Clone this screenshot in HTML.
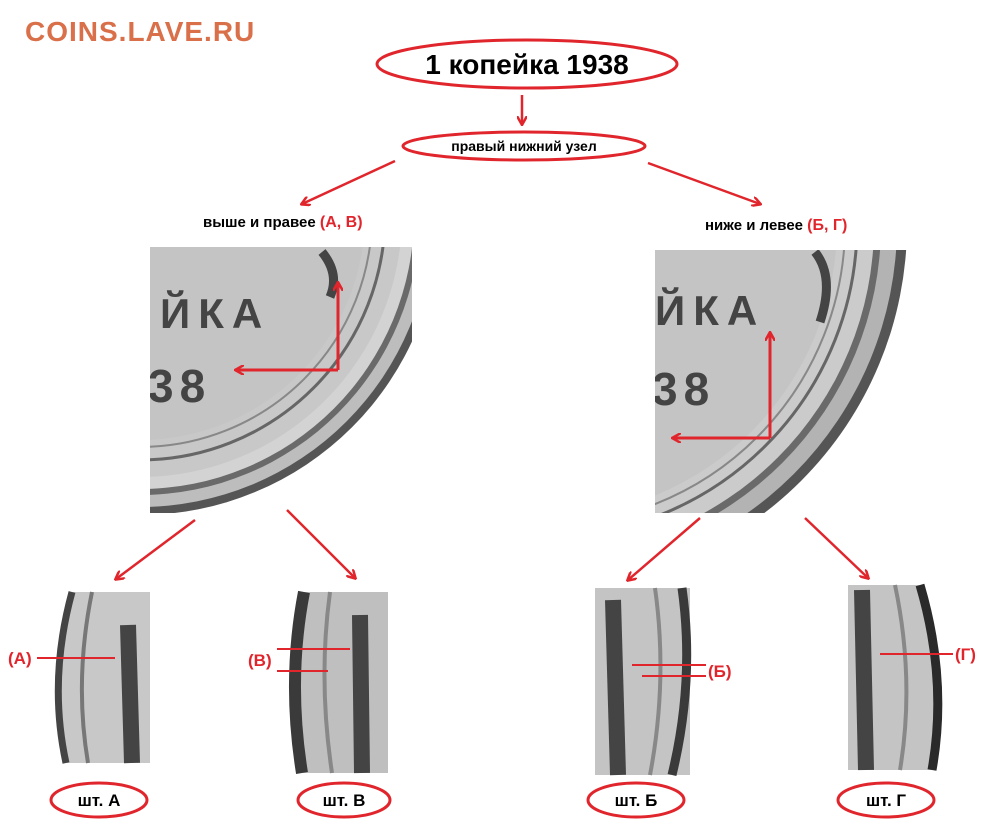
<!DOCTYPE html>
<html><head><meta charset="utf-8"><style>
body{margin:0;background:#fff;}
svg text{font-family:"Liberation Sans",sans-serif;font-weight:bold;}
</style></head><body>
<svg width="994" height="835" viewBox="0 0 994 835" xmlns="http://www.w3.org/2000/svg">
<defs>
<marker id="ah" markerWidth="10" markerHeight="10" refX="8" refY="5" orient="auto" markerUnits="userSpaceOnUse">
<path d="M0,0 L9,5 L0,10" fill="none" stroke="#e0262c" stroke-width="2.5"/></marker>
<clipPath id="cl"><rect x="150" y="247" width="262" height="266"/></clipPath>
<clipPath id="cr"><rect x="655" y="250" width="253" height="263"/></clipPath>
</defs>
<text x="25" y="41" font-size="28" letter-spacing="1" fill="#d9704a">COINS.LAVE.RU</text>

<ellipse cx="527" cy="64" rx="150" ry="24" fill="none" stroke="#e0262c" stroke-width="3"/>
<text x="527" y="74" font-size="28" text-anchor="middle" fill="#000">1 копейка 1938</text>
<line x1="522" y1="95" x2="522" y2="124" stroke="#e0262c" stroke-width="2.5" marker-end="url(#ah)"/>
<ellipse cx="524" cy="146" rx="121" ry="14" fill="none" stroke="#e0262c" stroke-width="3"/>
<text x="524" y="151" font-size="14" text-anchor="middle">правый нижний узел</text>
<line x1="395" y1="161" x2="302" y2="204" stroke="#e0262c" stroke-width="2.5" marker-end="url(#ah)"/>
<line x1="648" y1="163" x2="760" y2="204" stroke="#e0262c" stroke-width="2.5" marker-end="url(#ah)"/>
<text x="203" y="227" font-size="15">выше и правее <tspan fill="#e0262c" font-size="16">(А, В)</tspan></text>
<text x="705" y="230" font-size="15">ниже и левее <tspan fill="#e0262c" font-size="16">(Б, Г)</tspan></text>

<g clip-path="url(#cl)">
<circle cx="140" cy="215" r="300" fill="#555"/>
<circle cx="140" cy="215" r="292" fill="#bdbdbd"/>
<circle cx="140" cy="215" r="280" fill="#6a6a6a"/>
<circle cx="140" cy="215" r="274" fill="#d3d3d3"/>
<circle cx="140" cy="215" r="262" fill="#c8c8c8"/>
<circle cx="140" cy="215" r="245" fill="none" stroke="#666" stroke-width="3"/>
<circle cx="140" cy="215" r="232" fill="none" stroke="#888" stroke-width="2"/>
<circle cx="140" cy="215" r="225" fill="#c4c4c4"/>
<text x="160" y="328" font-size="42" letter-spacing="8" fill="#444" font-weight="normal">ЙКА</text>
<text x="148" y="402" font-size="46" letter-spacing="6" fill="#444" font-weight="normal">38</text>
<path d="M322 252 q18 22 8 45" stroke="#444" stroke-width="9" fill="none"/>
</g>
<g clip-path="url(#cr)">
<circle cx="545" cy="225" r="362" fill="#555"/>
<circle cx="545" cy="225" r="352" fill="#b3b3b3"/>
<circle cx="545" cy="225" r="336" fill="#6a6a6a"/>
<circle cx="545" cy="225" r="329" fill="#cbcbcb"/>
<circle cx="545" cy="225" r="312" fill="none" stroke="#666" stroke-width="3"/>
<circle cx="545" cy="225" r="300" fill="none" stroke="#888" stroke-width="2"/>
<circle cx="545" cy="225" r="292" fill="#c4c4c4"/>
<text x="655" y="325" font-size="42" letter-spacing="8" fill="#444" font-weight="normal">ЙКА</text>
<text x="652" y="405" font-size="46" letter-spacing="6" fill="#444" font-weight="normal">38</text>
<path d="M815 252 q20 25 5 70" stroke="#444" stroke-width="9" fill="none"/>
</g>
<polyline points="338,370 338,283" fill="none" stroke="#e0262c" stroke-width="3" marker-end="url(#ah)"/>
<line x1="338" y1="370" x2="236" y2="370" stroke="#e0262c" stroke-width="3" marker-end="url(#ah)"/>
<line x1="770" y1="438" x2="770" y2="333" stroke="#e0262c" stroke-width="3" marker-end="url(#ah)"/>
<line x1="770" y1="438" x2="673" y2="438" stroke="#e0262c" stroke-width="3" marker-end="url(#ah)"/>

<line x1="195" y1="520" x2="116" y2="579" stroke="#e0262c" stroke-width="2.5" marker-end="url(#ah)"/>
<line x1="287" y1="510" x2="355" y2="578" stroke="#e0262c" stroke-width="2.5" marker-end="url(#ah)"/>
<line x1="700" y1="518" x2="628" y2="580" stroke="#e0262c" stroke-width="2.5" marker-end="url(#ah)"/>
<line x1="805" y1="518" x2="868" y2="578" stroke="#e0262c" stroke-width="2.5" marker-end="url(#ah)"/>

<g>
<path d="M72 592 L150 592 L150 763 L66 763 Q48 680 72 592Z" fill="#c8c8c8"/>
<path d="M72 592 Q48 680 66 763" stroke="#444" stroke-width="7" fill="none"/>
<path d="M92 592 Q74 680 88 763" stroke="#777" stroke-width="4" fill="none"/>
<path d="M128 625 L132 763" stroke="#444" stroke-width="16"/>
<path d="M302 592 L388 592 L388 773 L300 773 Q285 680 302 592Z" fill="#bfbfbf"/>
<path d="M304 592 Q287 680 302 773" stroke="#3a3a3a" stroke-width="12" fill="none"/>
<path d="M330 592 Q318 680 332 773" stroke="#888" stroke-width="4" fill="none"/>
<path d="M360 615 L362 773" stroke="#444" stroke-width="16"/>
<path d="M595 588 L690 588 L690 775 L595 775 Z" fill="#c4c4c4"/>
<path d="M682 588 Q695 680 672 775" stroke="#3a3a3a" stroke-width="9" fill="none"/>
<path d="M655 588 Q668 680 650 775" stroke="#888" stroke-width="4" fill="none"/>
<path d="M613 600 L618 775" stroke="#444" stroke-width="16"/>
<path d="M848 585 L920 585 Q950 680 935 770 L848 770 Z" fill="#c4c4c4"/>
<path d="M920 585 Q948 680 932 770" stroke="#2a2a2a" stroke-width="9" fill="none"/>
<path d="M895 585 Q915 680 900 770" stroke="#888" stroke-width="4" fill="none"/>
<path d="M862 590 L866 770" stroke="#444" stroke-width="16"/>
</g>
<line x1="37" y1="658" x2="115" y2="658" stroke="#e0262c" stroke-width="2"/>
<text x="8" y="664" font-size="17" fill="#e0262c">(А)</text>
<line x1="277" y1="649" x2="350" y2="649" stroke="#e0262c" stroke-width="2"/>
<line x1="277" y1="671" x2="328" y2="671" stroke="#e0262c" stroke-width="2"/>
<text x="248" y="666" font-size="17" fill="#e0262c">(В)</text>
<line x1="632" y1="665" x2="706" y2="665" stroke="#e0262c" stroke-width="2"/>
<line x1="642" y1="676" x2="706" y2="676" stroke="#e0262c" stroke-width="2"/>
<text x="708" y="677" font-size="17" fill="#e0262c">(Б)</text>
<line x1="880" y1="654" x2="953" y2="654" stroke="#e0262c" stroke-width="2"/>
<text x="955" y="660" font-size="17" fill="#e0262c">(Г)</text>

<g font-size="17">
<ellipse cx="99" cy="800" rx="48" ry="17" fill="none" stroke="#e0262c" stroke-width="3"/>
<text x="99" y="806" text-anchor="middle">шт. А</text>
<ellipse cx="344" cy="800" rx="46" ry="17" fill="none" stroke="#e0262c" stroke-width="3"/>
<text x="344" y="806" text-anchor="middle">шт. В</text>
<ellipse cx="636" cy="800" rx="48" ry="17" fill="none" stroke="#e0262c" stroke-width="3"/>
<text x="636" y="806" text-anchor="middle">шт. Б</text>
<ellipse cx="886" cy="800" rx="48" ry="17" fill="none" stroke="#e0262c" stroke-width="3"/>
<text x="886" y="806" text-anchor="middle">шт. Г</text>
</g>
</svg>
</body></html>
